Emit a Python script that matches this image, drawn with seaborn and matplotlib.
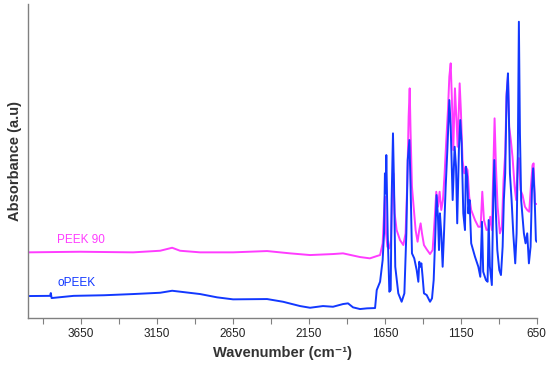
import numpy as np
import pandas as pd
import matplotlib
matplotlib.use("Agg")
import matplotlib.pyplot as plt
import seaborn as sns

# Spectra (wavenumber in cm-1, absorbance in a.u.)
peek90_wn = [4000, 3657, 3308, 3130, 3051, 2999, 2867, 2650, 2426, 2275, 2143, 1992, 1926,
             1814, 1749, 1703, 1682, 1665, 1656, 1650, 1643, 1634, 1621, 1610, 1601, 1595,
             1586, 1573, 1551, 1529, 1514, 1503, 1494, 1487, 1481, 1472, 1461, 1448, 1435,
             1424, 1415, 1406, 1393, 1375, 1353, 1336, 1323, 1312, 1301, 1290, 1279, 1268,
             1257, 1246, 1235, 1226, 1217, 1209, 1200, 1189, 1180, 1171, 1158, 1150, 1139,
             1128, 1117, 1106, 1095, 1082, 1057, 1035, 1020, 1009, 998, 981, 967, 957, 946,
             937, 928, 919, 908, 893, 880, 869, 858, 849, 840, 832, 821, 810, 796, 786, 775,
             768, 757, 744, 728, 713, 700, 689, 678, 671, 663, 652]
peek90_abs = [0.657, 0.663, 0.657, 0.673, 0.703, 0.673, 0.657, 0.657, 0.670, 0.647, 0.630,
              0.640, 0.647, 0.610, 0.597, 0.620, 0.630, 0.747, 1.047, 1.213, 0.847, 0.713,
              0.697, 0.780, 1.313, 1.447, 1.047, 0.880, 0.780, 0.730, 0.847, 1.347, 2.013,
              2.297, 1.847, 1.313, 1.113, 0.880, 0.763, 0.880, 0.947, 0.847, 0.730, 0.687,
              0.640, 0.680, 0.980, 1.263, 1.113, 1.263, 1.080, 1.180, 1.447, 1.780, 2.080,
              2.413, 2.547, 2.180, 1.680, 2.297, 2.013, 1.713, 2.347, 2.080, 1.580, 1.447,
              1.513, 1.480, 1.213, 1.080, 0.980, 0.913, 0.913, 1.263, 0.980, 0.880, 0.887,
              1.013, 0.880, 1.447, 1.997, 1.513, 1.113, 0.847, 0.913, 1.380, 1.647, 2.247,
              2.413, 1.913, 1.780, 1.613, 1.313, 1.180, 1.580, 1.600, 1.280, 1.230, 1.113,
              1.080, 1.063, 1.313, 1.530, 1.547, 1.147, 1.140]

opeek_wn = [4000, 3855, 3850, 3845, 3700, 3500, 3308, 3130, 3051, 2867, 2755, 2650, 2426,
            2321, 2209, 2143, 2058, 1992, 1926, 1893, 1860, 1814, 1768, 1715, 1704, 1682,
            1665, 1656, 1650, 1645, 1641, 1632, 1621, 1612, 1606, 1597, 1590, 1582, 1562,
            1540, 1522, 1509, 1500, 1489, 1481, 1472, 1457, 1441, 1430, 1424, 1417, 1410,
            1402, 1393, 1375, 1353, 1340, 1329, 1318, 1310, 1301, 1294, 1288, 1279, 1270,
            1261, 1250, 1239, 1226, 1217, 1204, 1191, 1182, 1174, 1163, 1154, 1145, 1134,
            1123, 1117, 1108, 1101, 1093, 1082, 1057, 1035, 1022, 1011, 1003, 985, 974,
            967, 959, 946, 937, 930, 921, 910, 897, 886, 875, 867, 858, 849, 840, 834, 827,
            816, 805, 792, 783, 775, 768, 761, 753, 744, 735, 724, 713, 702, 691, 682, 674,
            665, 656, 652]
opeek_abs = [0.220, 0.222, 0.250, 0.200, 0.222, 0.228, 0.240, 0.253, 0.273, 0.240, 0.207,
             0.187, 0.190, 0.163, 0.120, 0.103, 0.120, 0.113, 0.140, 0.147, 0.107, 0.090,
             0.097, 0.100, 0.280, 0.363, 0.580, 0.847, 1.447, 1.247, 1.630, 0.847, 0.263,
             0.280, 1.180, 1.847, 1.313, 0.513, 0.247, 0.163, 0.247, 0.847, 1.580, 1.780,
             1.313, 0.647, 0.597, 0.480, 0.363, 0.563, 0.513, 0.547, 0.413, 0.247, 0.230,
             0.163, 0.197, 0.380, 0.847, 1.230, 1.013, 0.680, 1.047, 0.847, 0.513, 0.847,
             1.313, 1.680, 2.180, 1.913, 1.180, 1.713, 1.513, 0.947, 1.680, 1.980, 1.747,
             1.047, 0.880, 1.513, 1.413, 1.047, 1.180, 0.747, 0.613, 0.513, 0.413, 0.963,
             0.463, 0.380, 0.363, 0.980, 0.513, 0.330, 1.180, 1.580, 1.113, 0.680, 0.480,
             0.430, 0.713, 1.180, 1.447, 2.213, 2.447, 2.047, 1.447, 1.180, 0.847, 0.547,
             0.847, 1.647, 2.963, 1.847, 1.180, 1.013, 0.847, 0.747, 0.847, 0.547, 0.713,
             1.280, 1.497, 1.247, 0.780, 0.763]

samples = ["PEEK 90", "oPEEK"]
colors = {"PEEK 90": "#ff3cff", "oPEEK": "#1238ff"}
label_pos = {"PEEK 90": (3810, 0.78), "oPEEK": (3805, 0.35)}

major_ticks = [3650, 3150, 2650, 2150, 1650, 1150, 650]
minor_ticks = [3900, 3400, 2900, 2400, 1900, 1400, 900]

df = pd.concat([
    pd.DataFrame({"wn": peek90_wn, "abs": peek90_abs, "sample": "PEEK 90"}),
    pd.DataFrame({"wn": opeek_wn, "abs": opeek_abs, "sample": "oPEEK"}),
])

sns.set_style("white")
plt.rcParams["font.family"] = ["Liberation Sans", "DejaVu Sans"]

fig = plt.figure(figsize=(5.5, 3.66), dpi=100)
ax = fig.add_axes([0.051, 0.131, 0.925, 0.858])

sns.lineplot(data=df, x="wn", y="abs", hue="sample", hue_order=samples,
             palette=colors, estimator=None, sort=True, linewidth=1.4,
             legend=False, ax=ax)

for s in samples:
    x, y = label_pos[s]
    ax.text(x, y, s, color=colors[s], fontsize=8.5, va="center", ha="left")

ax.set_xlim(4000, 650)
ax.set_ylim(0, 3.14)
ax.set_xticks(major_ticks)
ax.set_xticks(minor_ticks, minor=True)
ax.set_yticks([])
ax.tick_params(axis="x", which="both", direction="out", length=4, width=0.8,
               color="#808080", labelsize=8.5, labelcolor="#222222", bottom=True)

for side in ["top", "right"]:
    ax.spines[side].set_visible(False)
for side in ["left", "bottom"]:
    ax.spines[side].set_color("#808080")
    ax.spines[side].set_linewidth(1.0)

ax.set_xlabel("Wavenumber (cm⁻¹)", fontsize=10.5, fontweight="bold",
              color="#333333", labelpad=4)
ax.set_ylabel("Absorbance (a.u)", fontsize=10.5, fontweight="bold",
              color="#333333", labelpad=4)

fig.savefig("out.png", dpi=100)
